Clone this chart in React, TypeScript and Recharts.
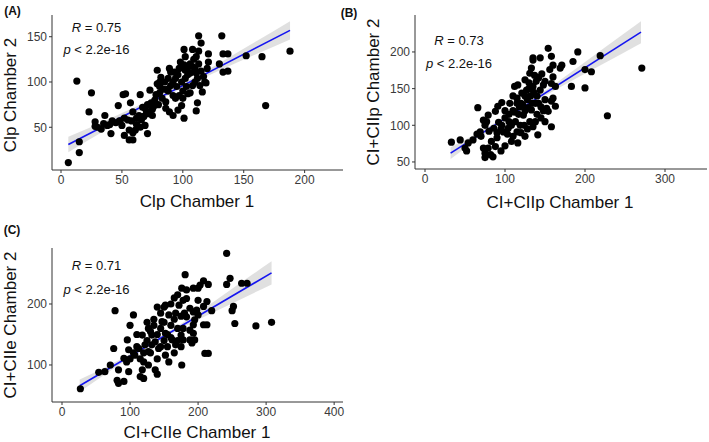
import React from "react";
import { ComposedChart, Scatter, Line, Area, XAxis, YAxis } from "recharts";

// ---------- Panel A : Clp ----------
const aX = [6, 15, 15, 13, 25, 23, 28, 28, 36, 38, 41, 47, 51, 53, 57, 59, 56, 59, 61, 56, 59, 50, 52, 65, 67, 64, 69, 71, 75, 73, 78, 81, 79, 83, 86, 89, 90, 88, 89, 92, 92, 94, 85, 81,
  113, 115, 132, 133, 137, 152, 165, 188, 168, 133, 137, 130, 101, 108, 121, 111, 113, 98, 101, 102, 104, 93, 94, 92, 111, 112, 108, 117, 119, 121, 116, 112, 111, 101, 97, 104, 99, 96,
  102, 106, 99, 103, 108, 106, 100, 95, 97, 90, 88, 86, 80, 77, 75, 72, 70, 68, 66, 62, 58, 55, 52, 48, 45, 42, 40, 35, 30, 33, 62, 65, 71, 74, 76, 81, 84, 87, 82, 79, 96, 99, 102, 104, 106, 109, 110, 113, 115, 114, 118, 120, 110, 100];
const aY = [11, 22, 34, 101, 88, 67, 56, 51, 63, 52, 43, 74, 86, 87, 77, 67, 47, 44, 47, 36, 36, 52, 41, 86, 72, 63, 52, 43, 63, 91, 86, 95, 113, 82, 71, 115, 111, 104, 67, 63, 85, 82, 100, 100,
  151, 143, 151, 131, 131, 129, 128, 134, 74, 111, 112, 120, 136, 136, 131, 128, 134, 122, 119, 113, 108, 111, 104, 100, 110, 104, 117, 106, 99, 122, 89, 77, 68, 60, 85, 87, 74, 69,
  128, 120, 100, 95, 96, 88, 90, 95, 115, 96, 90, 78, 75, 80, 70, 65, 68, 62, 58, 60, 57, 58, 60, 57, 55, 57, 53, 54, 50, 48, 53, 50, 75, 77, 73, 88, 92, 92, 105, 98, 108, 118, 104, 116, 110, 125, 115, 120, 112, 96, 100, 115, 100, 82];
const aFitX = [6, 188];
const aFitY = [31, 157];
const aBandX = [6, 40, 80, 100, 130, 160, 188];
const aBandLo = [22.5, 49.5, 79.7, 93.6, 112.8, 130.6, 147];
const aBandHi = [39.5, 59.5, 84.7, 98.6, 120.8, 144.6, 167];
const aXTicks = [0, 50, 100, 150, 200];
const aYTicks = [50, 100, 150];

// ---------- Panel B : CI+CIIp ----------
const bX = [33, 44, 50, 52, 54, 66, 69, 73, 77, 75, 79, 73, 75, 79, 75, 85, 83, 90, 88, 88, 91, 96, 96, 100, 98, 104, 108, 116, 115, 112, 116, 121, 115, 125, 131, 135, 133, 129, 123, 131, 125,
  154, 144, 135, 158, 160, 156, 171, 169, 185, 191, 219, 200, 208, 271, 183, 200, 228, 160, 163, 158, 148, 144, 139, 135, 150, 158, 163, 160, 133, 138, 135, 141, 158, 152, 154,
  120, 125, 118, 110, 105, 112, 128, 132, 136, 140, 142, 145, 148, 138, 127, 122, 119, 113, 108, 103, 95, 92, 86, 80, 70, 65, 60, 100, 106, 115, 110, 130, 125, 134, 140, 145, 150, 128, 120, 110, 100, 95, 82, 90, 105, 117, 124, 142, 146, 150, 137, 130];
const bY = [77, 80, 69, 65, 76, 124, 91, 107, 105, 100, 114, 69, 62, 69, 56, 57, 78, 83, 71, 119, 126, 131, 100, 110, 91, 96, 78, 76, 91, 153, 155, 144, 137, 162, 171, 189, 178, 124, 114, 105, 85,
  205, 192, 192, 194, 182, 176, 182, 178, 187, 200, 195, 176, 173, 178, 153, 151, 113, 166, 153, 157, 155, 148, 160, 153, 135, 133, 126, 137, 121, 105, 98, 87, 98, 123, 119,
  130, 120, 125, 120, 115, 118, 135, 140, 145, 140, 130, 125, 120, 130, 148, 128, 100, 105, 100, 88, 95, 104, 96, 92, 85, 88, 80, 120, 130, 130, 140, 150, 140, 130, 115, 110, 105, 95, 90, 85, 72, 65, 60, 90, 105, 115, 100, 165, 170, 160, 168, 158];
const bFitX = [32, 270];
const bFitY = [62, 227];
const bBandX = [32, 70, 110, 130, 170, 220, 270];
const bBandLo = [54, 84.3, 113.6, 127.4, 152.6, 182.3, 212];
const bBandHi = [70, 92.3, 118.6, 132.4, 162.6, 202.3, 242];
const bXTicks = [0, 100, 200, 300];
const bYTicks = [50, 100, 150, 200];

// ---------- Panel C : CI+CIIe ----------
const cX = [27, 54, 63, 71, 78, 81, 91, 83, 83, 98, 76, 96, 105, 98, 107, 91, 118, 115, 127, 120, 118, 127, 132, 122, 132, 137, 142, 152, 157, 147, 167, 172, 152, 162, 167, 152, 157, 137, 127, 113,
  242, 181, 247, 242, 264, 272, 252, 250, 254, 285, 308, 208, 203, 200, 193, 183, 176, 215, 183, 178, 200, 213, 208, 198, 193, 188, 220, 183, 195, 200, 193, 208, 213, 188, 193, 178, 175, 178, 188, 195, 191, 210, 215, 176,
  125, 130, 135, 140, 145, 150, 155, 160, 165, 170, 175, 180, 130, 140, 145, 150, 155, 160, 165, 170, 175, 120, 115, 110, 105, 100, 95, 140, 120, 135, 145, 150, 160, 165, 170, 100, 110, 125, 140];
const cY = [61, 88, 89, 100, 189, 75, 73, 70, 92, 89, 127, 141, 182, 125, 116, 111, 92, 81, 100, 105, 149, 160, 149, 133, 133, 138, 127, 198, 182, 171, 185, 198, 152, 141, 133, 116, 105, 92, 122, 127,
  283, 248, 242, 232, 234, 234, 196, 189, 168, 164, 170, 238, 231, 226, 226, 223, 226, 232, 209, 206, 206, 204, 196, 190, 187, 193, 189, 179, 174, 182, 166, 166, 166, 157, 152, 160, 149, 141, 141, 141, 136, 119, 119, 100,
  140, 155, 165, 150, 160, 170, 150, 165, 175, 160, 180, 185, 120, 110, 130, 140, 130, 145, 120, 140, 130, 120, 110, 130, 120, 110, 105, 85, 78, 175, 185, 195, 200, 210, 215, 165, 150, 170, 195];
const cFitX = [26, 308];
const cFitY = [66, 251];
const cBandX = [26, 70, 120, 150, 200, 250, 308];
const cBandLo = [56, 89.9, 124.7, 144.3, 174.1, 201, 232];
const cBandHi = [76, 99.9, 130.7, 150.3, 186.1, 225, 270];
const cXTicks = [0, 100, 200, 300, 400];
const cYTicks = [100, 200];

const FONT = "'Liberation Sans', Arial, sans-serif";

const zip = (xs: number[], ys: number[]) => xs.map((x, i) => ({ x, y: ys[i] }));
const band = (xs: number[], lo: number[], hi: number[]) => xs.map((x, i) => ({ x, band: [lo[i], hi[i]] }));

const Dot = (p: any) => <circle cx={p.cx} cy={p.cy} r={3.6} fill="#000" />;

type PanelProps = {
  left: number; top: number; width: number; height: number;
  pts: { x: number; y: number }[];
  fit: { x: number; y: number }[];
  bnd: { x: number; band: number[] }[];
  xDomain: [number, number]; yDomain: [number, number];
  xTicks: number[]; yTicks: number[];
};

const tickStyle = { fontSize: 12, fill: "#3a3a3a", fontFamily: FONT };

function Panel(p: PanelProps) {
  return (
    <div style={{ position: "absolute", left: p.left, top: p.top }}>
      <ComposedChart width={p.width} height={p.height} margin={{ top: 15, right: 2, bottom: 0, left: 0 }}>
        <XAxis type="number" dataKey="x" domain={p.xDomain} ticks={p.xTicks} allowDataOverflow
          height={45} tickSize={3} tickMargin={2} stroke="#333" tick={tickStyle} tickLine={{ stroke: "#333" }} />
        <YAxis type="number" dataKey="y" domain={p.yDomain} ticks={p.yTicks} allowDataOverflow
          width={52} tickSize={3} tickMargin={2} stroke="#333" tick={tickStyle} tickLine={{ stroke: "#333" }} />
        <Scatter data={p.pts} dataKey="y" shape={Dot} isAnimationActive={false} />
        <Area data={p.bnd} dataKey="band" type="monotone" stroke="none" fill="#999" fillOpacity={0.3} isAnimationActive={false} dot={false} activeDot={false} />
        <Line data={p.fit} dataKey="y" type="linear" stroke="#1515f0" strokeWidth={1.6} dot={false} activeDot={false} isAnimationActive={false} />
      </ComposedChart>
    </div>
  );
}

const abs = (x: number, y: number, extra: React.CSSProperties = {}): React.CSSProperties => ({
  position: "absolute", left: x, top: y, transform: "translate(-50%, -50%)", whiteSpace: "nowrap", fontFamily: FONT, color: "#111", lineHeight: 1, ...extra,
});

function Annot({ x, y1, y2, r }: { x: number; y1: number; y2: number; r: string }) {
  return (
    <>
      <div style={abs(x, y1, { fontSize: 13 })}><i>R</i> = {r}</div>
      <div style={abs(x, y2, { fontSize: 13 })}><i>p</i> &lt; 2.2e-16</div>
    </>
  );
}

export default function App() {
  return (
    <div style={{ position: "absolute", left: 0, top: 0, width: 709, height: 442, background: "#fff", overflow: "hidden" }}>
      <Panel left={0} top={0} width={345} height={215} pts={zip(aX, aY)} fit={zip(aFitX, aFitY)} bnd={band(aBandX, aBandLo, aBandHi)}
        xDomain={[-7.4, 231.5]} yDomain={[2.8, 174]} xTicks={aXTicks} yTicks={aYTicks} />
      <Panel left={363} top={0} width={346} height={214} pts={zip(bX, bY)} fit={zip(bFitX, bFitY)} bnd={band(bBandX, bBandLo, bBandHi)}
        xDomain={[-12.5, 352.5]} yDomain={[40.4, 250.4]} xTicks={bXTicks} yTicks={bYTicks} />
      <Panel left={0} top={233} width={345} height={214} pts={zip(cX, cY)} fit={zip(cFitX, cFitY)} bnd={band(cBandX, cBandLo, cBandHi)}
        xDomain={[-14.7, 413]} yDomain={[39.3, 291.8]} xTicks={cXTicks} yTicks={cYTicks} />

      <div style={abs(12.5, 11, { fontSize: 12, fontWeight: "bold" })}>(A)</div>
      <div style={abs(349, 12.5, { fontSize: 12, fontWeight: "bold" })}>(B)</div>
      <div style={abs(12, 230, { fontSize: 12, fontWeight: "bold" })}>(C)</div>

      <div style={abs(10, 95, { fontSize: 17, transform: "translate(-50%, -50%) rotate(-90deg)" })}>Clp Chamber 2</div>
      <div style={abs(197, 200.5, { fontSize: 17 })}>Clp Chamber 1</div>
      <div style={abs(373, 92, { fontSize: 17, transform: "translate(-50%, -50%) rotate(-90deg)" })}>CI+CIIp Chamber 2</div>
      <div style={abs(560, 202, { fontSize: 17 })}>CI+CIIp Chamber 1</div>
      <div style={abs(10, 324.5, { fontSize: 17, transform: "translate(-50%, -50%) rotate(-90deg)" })}>CI+CIIe Chamber 2</div>
      <div style={abs(197, 432, { fontSize: 17 })}>CI+CIIe Chamber 1</div>

      <Annot x={96.5} y1={27} y2={49} r="0.75" />
      <Annot x={459} y1={40} y2={62.5} r="0.73" />
      <Annot x={96.5} y1={265} y2={289} r="0.71" />
    </div>
  );
}
